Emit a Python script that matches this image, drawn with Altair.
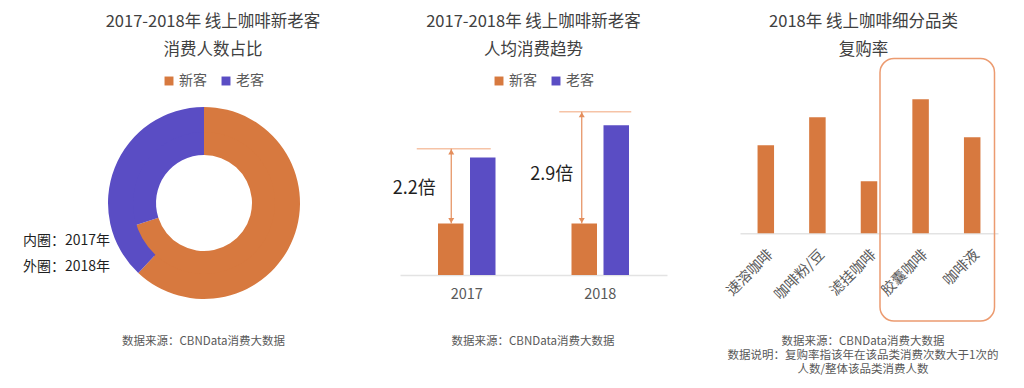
import altair as alt
import pandas as pd

FONT = "Noto Sans CJK SC"
ORANGE = "#D7793F"
PURPLE = "#5A4DC4"
LINE_ORANGE = "#F6C3A6"
ARROW_ORANGE = "#E48E5C"
BOX_ORANGE = "#EC9B70"
TITLE_COLOR = "#404040"
LABEL_COLOR = "#595959"
DARK = "#1F1F1F"
AXIS_LINE = "#E3E3E3"

H = 372
W1, W2, W3 = 372, 320, 316

# ---------------- data ----------------
customer_types = ["新客", "老客"]
share_2017 = [70, 30]   # inner ring
share_2018 = [62, 38]   # outer ring

years = ["2017", "2018"]
spend_new = [100, 100]
spend_old = [228, 291]
ref_level = [245, 317]
ratio_text = ["2.2倍", "2.9倍"]

categories = ["速溶咖啡", "咖啡粉/豆", "滤挂咖啡", "胶囊咖啡", "咖啡液"]
repurchase = [44, 58, 26, 67, 48]

titles = [
    ["2017-2018年 线上咖啡新老客", "消费人数占比"],
    ["2017-2018年 线上咖啡新老客", "人均消费趋势"],
    ["2018年 线上咖啡细分品类", "复购率"],
]
ring_notes = ["内圈：2017年", "外圈：2018年"]
source_note = "数据来源：CBNData消费大数据"
definition_note = ["数据说明：复购率指该年在该品类消费次数大于1次的", "人数/整体该品类消费人数"]


# ---------------- helpers ----------------
def text_layer(s, x, y, size, color, align="center"):
    return alt.Chart(pd.DataFrame({"t": [s]})).mark_text(
        font=FONT, fontSize=size, color=color, align=align, baseline="middle"
    ).encode(text="t:N", x=alt.value(x), y=alt.value(y))


def title_layers(lines, cx):
    return [text_layer(lines[0], cx, 14, 16.5, TITLE_COLOR),
            text_layer(lines[1], cx, 42, 16.5, TITLE_COLOR)]


def footer_layers(lines, cx, y0=334, step=14):
    return [text_layer(s, cx, y0 + i * step, 11.5, LABEL_COLOR) for i, s in enumerate(lines)]


color_scale = alt.Scale(domain=customer_types, range=[ORANGE, PURPLE])


def legend_at(x, y):
    return alt.Legend(orient="none", legendX=x, legendY=y, direction="horizontal", title=None,
                      symbolType="square", symbolSize=80, symbolStrokeWidth=0,
                      labelFont=FONT, labelFontSize=14, labelColor=LABEL_COLOR,
                      columnPadding=12, labelOffset=3, padding=0)


# ---------------- panel 1: donut ----------------
CX1, CY1 = 196, 195
ring17 = pd.DataFrame({"type": customer_types, "share": share_2017, "ord": list(range(len(customer_types)))})
ring18 = pd.DataFrame({"type": customer_types, "share": share_2018, "ord": list(range(len(customer_types)))})


def ring(df, r0, r1):
    return alt.Chart(df).mark_arc(innerRadius=r0, outerRadius=r1, padAngle=0).encode(
        theta=alt.Theta("share:Q", stack=True),
        color=alt.Color("type:N", scale=color_scale, legend=legend_at(154, 66)),
        order=alt.Order("ord:Q"),
        x=alt.value(CX1), y=alt.value(CY1),
    )


p1 = alt.layer(
    ring(ring17, 48, 73),      # inner ring slightly under the outer one to avoid a seam
    ring(ring18, 71, 96),
    *title_layers(titles[0], 205),
    text_layer(ring_notes[0], 15, 233, 14, DARK, align="left"),
    text_layer(ring_notes[1], 15, 259, 14, DARK, align="left"),
    *footer_layers([source_note], 195.5),
).properties(width=W1, height=H)

# ---------------- panel 2: grouped bars ----------------
spend = pd.DataFrame({
    "year": years * 2,
    "type": [customer_types[0]] * len(years) + [customer_types[1]] * len(years),
    "value": spend_new + spend_old,
})
ann = pd.DataFrame({"year": years, "top": ref_level, "bottom": spend_new, "label": ratio_text})

PX2 = 0.515
BASE2 = 267
R2 = [20, 287]
y2_scale = alt.Scale(domain=[-(H - BASE2) / PX2, BASE2 / PX2], nice=False, zero=False)
x2_scale = alt.Scale(domain=years, range=R2, paddingInner=0, paddingOuter=0)
x2_axis = alt.Axis(title=None, offset=-(H - BASE2), ticks=False, domainColor=AXIS_LINE,
                   domainWidth=1.5, labelFont=FONT, labelFontSize=14.5, labelColor=LABEL_COLOR,
                   labelPadding=12, grid=False, labelAngle=0)


def spend_bars(kind, dx):
    return alt.Chart(spend).transform_filter(alt.datum.type == kind).mark_bar(
        size=25.5, xOffset=dx
    ).encode(
        x=alt.X("year:N", scale=x2_scale, axis=x2_axis, sort=years),
        y=alt.Y("value:Q", scale=y2_scale, axis=None),
        color=alt.Color("type:N", scale=color_scale, legend=legend_at(112, 66)),
    )


step2 = (R2[1] - R2[0]) / len(years)
# annotation offsets relative to band centre (style only)
ann_style = [
    dict(line=(-50, 24), arrow=-15.5, label_dx=-31, label_y=181),
    dict(line=(-41, 31), arrow=-18.5, label_dx=-27, label_y=167),
]

ann_layers = []
for i, yr in enumerate(years):
    c = R2[0] + step2 * (i + 0.5)
    st = ann_style[i]
    d = alt.Chart(ann).transform_filter(alt.datum.year == yr)
    ann_layers += [
        d.mark_rule(color=LINE_ORANGE, strokeWidth=1.5).encode(
            x=alt.value(c + st["line"][0]), x2=alt.value(c + st["line"][1]),
            y=alt.Y("top:Q", scale=y2_scale, axis=None)),
        d.mark_rule(color=ARROW_ORANGE, strokeWidth=1.2).encode(
            x=alt.value(c + st["arrow"]),
            y=alt.Y("top:Q", scale=y2_scale, axis=None), y2="bottom:Q"),
        d.mark_point(shape="triangle-up", filled=True, size=36, color=ARROW_ORANGE,
                     opacity=1, yOffset=3).encode(
            x=alt.value(c + st["arrow"]), y=alt.Y("top:Q", scale=y2_scale, axis=None)),
        d.mark_point(shape="triangle-down", filled=True, size=36, color=ARROW_ORANGE,
                     opacity=1, yOffset=-3).encode(
            x=alt.value(c + st["arrow"]), y=alt.Y("bottom:Q", scale=y2_scale, axis=None)),
        d.mark_text(font=FONT, fontSize=18, color=DARK, align="right", baseline="middle").encode(
            x=alt.value(c + st["label_dx"]), y=alt.value(st["label_y"]), text="label:N"),
    ]

p2 = alt.layer(
    spend_bars(customer_types[0], -16),
    spend_bars(customer_types[1], 16),
    *ann_layers,
    *title_layers(titles[1], 153.5),
    *footer_layers([source_note], 153),
).properties(width=W2, height=H)

# ---------------- panel 3: repurchase bars ----------------
rep = pd.DataFrame({"cat": categories, "rate": repurchase})
PX3 = 2.0
BASE3 = 225.3
y3_scale = alt.Scale(domain=[-(H - BASE3) / PX3, BASE3 / PX3], nice=False, zero=False)
x3_scale = alt.Scale(domain=categories, range=[40, 298], paddingInner=0, paddingOuter=0)
x3_axis = alt.Axis(title=None, offset=-(H - BASE3), ticks=False, domainColor=AXIS_LINE,
                   domainWidth=1.5, labelAngle=-45, labelFont=FONT, labelFontSize=14.5,
                   labelColor=LABEL_COLOR, labelPadding=14, grid=False)

bars3 = alt.Chart(rep).mark_bar(size=16.5, color=ORANGE).encode(
    x=alt.X("cat:N", scale=x3_scale, axis=x3_axis, sort=categories),
    y=alt.Y("rate:Q", scale=y3_scale, axis=None),
)

box = alt.Chart(pd.DataFrame({"k": [0]})).mark_rect(
    filled=False, stroke=BOX_ORANGE, strokeWidth=1.5, cornerRadius=14
).encode(x=alt.value(180), x2=alt.value(294.5), y=alt.value(50.5), y2=alt.value(313))

p3 = alt.layer(
    bars3, box,
    *title_layers(titles[2], 163.5),
    *footer_layers([source_note] + definition_note, 163),
).properties(width=W3, height=H)

chart = alt.hconcat(p1, p2, p3, spacing=0, bounds="flush").resolve_scale(
    color="independent"
).resolve_legend(color="independent").properties(padding=0).configure_view(stroke=None)

chart.save("out.html", embed_options={"renderer": "svg", "actions": False})
